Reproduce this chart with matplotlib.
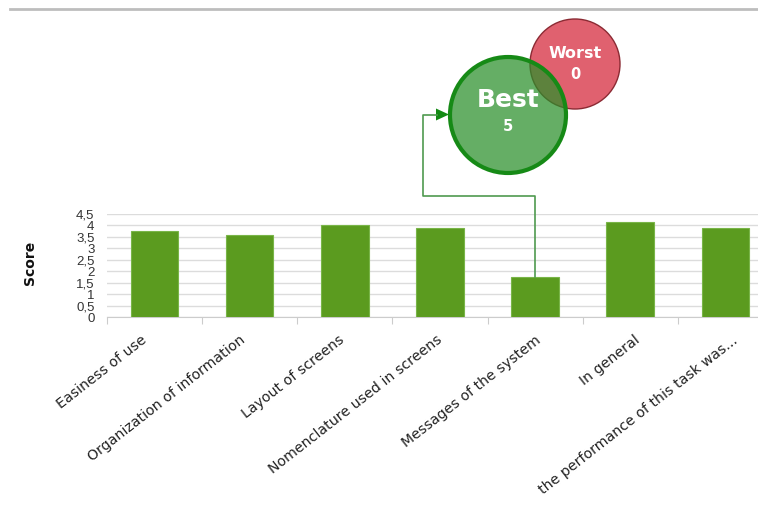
import matplotlib
matplotlib.use("Agg")
import matplotlib.pyplot as plt
import matplotlib.patches as mpatches

categories = ["Easiness of use", "Organization of information", "Layout of screens",
              "Nomenclature used in screens", "Messages of the system", "In general",
              "the performance of this task was..."]
scores = [3.75, 3.58, 4.02, 3.88, 1.74, 4.16, 3.88]
y_ticks = [0, 0.5, 1, 1.5, 2, 2.5, 3, 3.5, 4, 4.5]
y_tick_labels = ["0", "0,5", "1", "1,5", "2", "2,5", "3", "3,5", "4", "4,5"]
best_score = 5
worst_score = 0
highlight = 4  # bar linked to the "Best" bubble

W, H = 758, 509
BAR_COLOR = "#5b9b1f"
LABEL_ROT = 38
LABEL_STEP = 1.035  # the rotated labels sit a little wider apart than the bars

fig = plt.figure(figsize=(W / 100, H / 100), dpi=100)

# main bar chart; the right side runs past the picture edge like the original
ax = fig.add_axes([107 / W, 1 - 317.3 / H, 666 / W, 103.3 / H])
x = list(range(len(categories)))
ax.bar(x, scores, width=0.5, color=BAR_COLOR, edgecolor="#79b548", linewidth=0.8, zorder=3)
ax.set_xlim(-0.5, len(categories) - 0.5)
ax.set_ylim(0, 4.5)
ax.set_yticks(y_ticks)
ax.set_yticklabels(y_tick_labels, fontsize=9.5, color="#333333", family="Liberation Sans")
ax.tick_params(axis="y", length=0, pad=9)
ax.grid(axis="y", color="#dcdcdc", linewidth=1, zorder=0)
for s in ["top", "right", "left"]:
    ax.spines[s].set_visible(False)
ax.spines["bottom"].set_color("#cccccc")

# ticks at the category boundaries, labels under bar centres
ax.set_xticks([i + 0.5 for i in x[:-1]] + [-0.5])
ax.set_xticklabels([])
ax.tick_params(axis="x", length=5, color="#cccccc")
for i, name in enumerate(categories):
    ax.annotate(name, xy=(i * LABEL_STEP - 0.07, 0), xycoords="data",
                xytext=(0, -17.5), textcoords="offset points",
                rotation=LABEL_ROT, rotation_mode="anchor", ha="right", va="baseline",
                fontsize=10.2, color="#222222")

fig.text(30 / W, 1 - 263 / H, "Score", rotation=90, ha="center", va="center",
         fontsize=10, fontweight="bold", color="#111111")

# overlay in pixel coordinates for the bubbles and connector
ov = fig.add_axes([0, 0, 1, 1], zorder=5)
ov.set_xlim(0, W)
ov.set_ylim(H, 0)
ov.axis("off")

ov.plot([10, W], [9, 9], color="#bdbdbd", linewidth=2)

worst = mpatches.Circle((575, 64), 45, facecolor="#e0616f", edgecolor="#8b2a33", linewidth=1)
ov.add_patch(worst)
best = mpatches.Circle((508, 115), 58, facecolor="#2a8f2a", alpha=0.72, edgecolor="none")
ov.add_patch(best)
ov.add_patch(mpatches.Circle((508, 115), 58, facecolor="none", edgecolor="#168a16", linewidth=3))

ov.text(575, 53, "Worst", ha="center", va="center", color="white", fontsize=11.5, fontweight="bold")
ov.text(575, 74, str(worst_score), ha="center", va="center", color="white", fontsize=10.5, fontweight="bold")
ov.text(508, 100, "Best", ha="center", va="center", color="white", fontsize=18, fontweight="bold")
ov.text(508, 126, str(best_score), ha="center", va="center", color="white", fontsize=10.5, fontweight="bold")

# connector from the top of the highlighted bar to the Best bubble
disp = ax.transData.transform((highlight, scores[highlight]))
bx, by = ov.transData.inverted().transform(disp)
ov.plot([bx, bx, 423, 423, 437], [by, 195.5, 195.5, 114.5, 114.5],
        color="#4f9a4f", linewidth=1.2)
ov.add_patch(mpatches.Polygon([(449, 114.5), (436, 108.5), (436, 120.5)], closed=True,
                              facecolor="#138a13", edgecolor="none"))

fig.savefig("out.png", dpi=100)
